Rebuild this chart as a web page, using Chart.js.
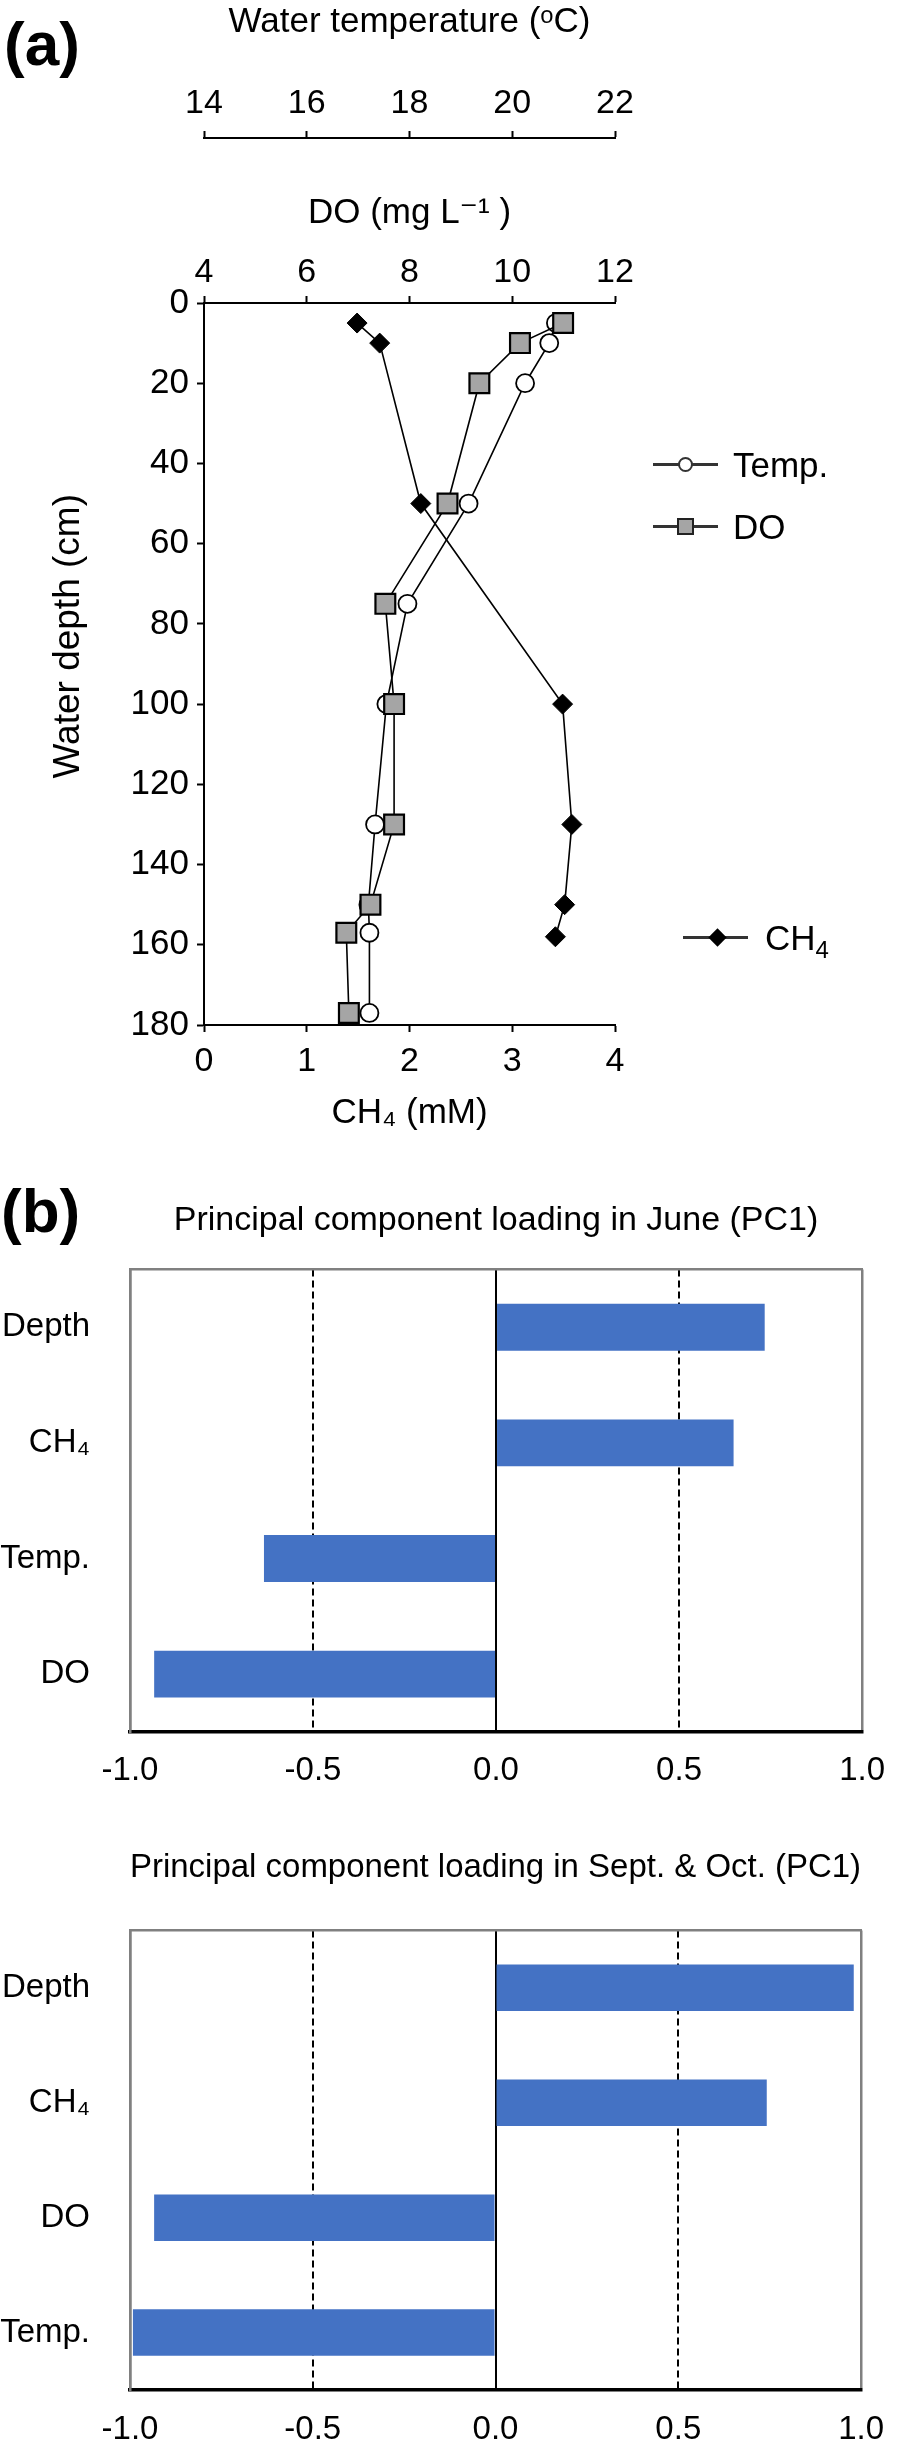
<!DOCTYPE html>
<html>
<head>
<meta charset="utf-8">
<script src="https://cdn.jsdelivr.net/npm/chart.js@4.4.1/dist/chart.umd.min.js"></script>
<style>
  body { margin:0; background:#fff; }
  #page { position:relative; width:904px; height:2448px; font-family:"Liberation Sans", Arial, sans-serif; color:#000; overflow:hidden; }
  canvas { position:absolute; left:0; }
  .tag { position:absolute; font-weight:bold; font-size:62px; line-height:1; }
  .lgText { position:absolute; font-size:35px; line-height:1; white-space:nowrap; }
  .lgText sub { font-size:24px; vertical-align:-8px; line-height:0; }
  .lgLine { position:absolute; height:3px; background:#333; }
  .mk { position:absolute; box-sizing:border-box; }
</style>
</head>
<body>
<div id="page">
  <div class="tag" style="left:4px; top:13px;">(a)</div>
  <div class="tag" style="left:1px; top:1180px;">(b)</div>

  <canvas id="profile" width="904" height="1140" style="top:0;"></canvas>
  <canvas id="june" width="904" height="640" style="top:1160px;"></canvas>
  <canvas id="autumn" width="904" height="638" style="top:1810px;"></canvas>

  <!-- legend of panel (a) -->
  <div class="lgLine" style="left:653px; top:463px; width:65px;"></div>
  <div class="mk" style="left:678px; top:457px; width:15px; height:15px; border:2.5px solid #333; border-radius:50%; background:#fff;"></div>
  <div class="lgText" style="left:733px; top:447px;">Temp.</div>

  <div class="lgLine" style="left:653px; top:525px; width:65px;"></div>
  <div class="mk" style="left:677px; top:518px; width:17px; height:17px; border:2.5px solid #222; background:#a5a5a5;"></div>
  <div class="lgText" style="left:733px; top:509px;">DO</div>

  <div class="lgLine" style="left:683px; top:936px; width:65px;"></div>
  <div class="mk" style="left:711px; top:931px; width:13px; height:13px; background:#000; transform:rotate(45deg);"></div>
  <div class="lgText" style="left:765px; top:920px;">CH<sub>4</sub></div>
</div>

<script>
// panel (a): depth profiles
const depthTemp = [5, 10, 20, 50, 75, 100, 130, 150, 157, 177];
const tempC     = [20.85, 20.72, 20.25, 19.15, 17.96, 17.55, 17.33, 17.2, 17.22, 17.22];
const depthDO   = [5, 10, 20, 50, 75, 100, 130, 150, 157, 177];
const doMg      = [10.99, 10.15, 9.36, 8.74, 7.53, 7.70, 7.70, 7.24, 6.77, 6.82];
const depthCH4  = [5, 10, 50, 100, 130, 150, 158];
const ch4mM     = [1.49, 1.71, 2.11, 3.49, 3.58, 3.51, 3.42];

// panel (b): PC1 loadings
const juneVars   = ["Depth", "CH₄", "Temp.", "DO"];
const juneLoad   = [0.734, 0.649, -0.634, -0.934];
const autumnVars = ["Depth", "CH₄", "DO", "Temp."];
const autumnLoad = [0.98, 0.742, -0.934, -0.992];

const FONT = '"Liberation Sans", Arial, "DejaVu Sans", sans-serif';
const f = (size) => ({family: FONT, size: size, weight: "normal", lineHeight: 1.2});
const pts = (xs, ys) => xs.map((v, i) => ({x: v, y: ys[i]}));

function topAxis(min, max, title, titlePad, labelPad, weight, h){
    return {
        type: "linear", position: "top", min: min, max: max, weight: weight,
        ticks: {stepSize: 2, font: f(34), color: "#000", padding: labelPad, maxRotation: 0},
        grid: {drawOnChartArea: false, tickLength: 7, tickWidth: 2, tickColor: "#000"},
        border: {color: "#000", width: 2},
        title: {display: true, text: title, font: f(35), color: "#000", padding: {top: titlePad, bottom: 0}},
        afterFit: s => { s.height = h; }
    };
}

new Chart(document.getElementById("profile"), {
    type: "scatter",
    data: {datasets: [
        {label: "DO", data: pts(doMg, depthDO), xAxisID: "xDO", yAxisID: "y", showLine: true,
         borderColor: "#000", borderWidth: 1.6, pointStyle: "rect", pointRadius: 14,
         pointBackgroundColor: "#a5a5a5", pointBorderColor: "#000", pointBorderWidth: 2.2},
        {label: "Temp.", data: pts(tempC, depthTemp), xAxisID: "xT", yAxisID: "y", showLine: true,
         borderColor: "#000", borderWidth: 1.6, pointStyle: "circle", pointRadius: 9,
         pointBackgroundColor: "#fff", pointBorderColor: "#000", pointBorderWidth: 1.8},
        {label: "CH4", data: pts(ch4mM, depthCH4), xAxisID: "x", yAxisID: "y", showLine: true,
         borderColor: "#000", borderWidth: 1.6, pointStyle: "rectRot", pointRadius: 10,
         pointBackgroundColor: "#000", pointBorderColor: "#000", pointBorderWidth: 1}
    ]},
    options: {
        responsive: false, animation: false,
        layout: {padding: {left: 0, top: 0, right: 289, bottom: 0}},
        plugins: {legend: {display: false}, tooltip: {enabled: false}},
        scales: {
            y: {
                type: "linear", position: "left", reverse: true, min: 0, max: 180,
                ticks: {stepSize: 20, font: f(35), color: "#000", padding: 8},
                grid: {drawOnChartArea: false, tickLength: 7, tickWidth: 2, tickColor: "#000"},
                border: {color: "#000", width: 2},
                // leading em/en spaces lift the centred label a little, as in the original
                title: {display: true, text: "\u2003\u2002Water depth (cm)", font: f(37), color: "#000", padding: {top: 47, bottom: 0}},
                afterFit: s => { s.width = 204; }
            },
            x: {
                type: "linear", position: "bottom", min: 0, max: 4,
                ticks: {stepSize: 1, font: f(34), color: "#000", padding: 9, maxRotation: 0},
                grid: {drawOnChartArea: false, tickLength: 7, tickWidth: 2, tickColor: "#000"},
                border: {color: "#000", width: 2},
                title: {display: true, text: "CH₄ (mM)", font: f(35), color: "#000", padding: {top: 0, bottom: 6}},
                afterFit: s => { s.height = 115; }
            },
            xDO: topAxis(4, 12, "DO (mg L⁻¹ )", 54, 3, 0, 165),
            xT: topAxis(14, 22, "Water temperature (ᵒC)", 1, 7, 1, 138)
        }
    }
});

function pcaChart(id, labels, values, title, titlePad, topH, bottomH, labelPad){
    return new Chart(document.getElementById(id), {
        type: "bar",
        data: {labels: labels, datasets: [{data: values, backgroundColor: "#4472c4",
               barPercentage: 0.405, categoryPercentage: 1}]},
        options: {
            indexAxis: "y", responsive: false, animation: false,
            layout: {padding: {left: 0, right: 26, top: 0, bottom: 0}},
            plugins: {
                legend: {display: false}, tooltip: {enabled: false},
                title: {display: true, text: title, font: f(34), color: "#000", fullSize: false,
                        padding: {top: titlePad, bottom: 0}}
            },
            scales: {
                x: {
                    min: -1, max: 1,
                    ticks: {stepSize: 0.5, callback: v => v.toFixed(1), font: f(33), color: "#000",
                            padding: labelPad, maxRotation: 0},
                    grid: {
                        drawTicks: false,
                        color: c => Math.abs(c.tick.value) === 1 ? "#808080" : "#000",
                        lineWidth: c => Math.abs(c.tick.value) === 1 ? 2.5 : 2
                    },
                    border: {color: "#000", width: 3.5,
                             dash: c => (c.tick && Math.abs(c.tick.value) === 0.5) ? [7, 4] : []},
                    afterFit: s => { s.height = bottomH; }
                },
                xTop: {
                    type: "linear", position: "top", min: -1, max: 1,
                    ticks: {display: false}, grid: {display: false},
                    border: {color: "#808080", width: 2.5},
                    afterFit: s => { s.height = topH; }
                },
                y: {
                    ticks: {font: f(33), color: "#000", padding: 32},
                    grid: {display: false},
                    border: {color: "#808080", width: 2.5},
                    afterFit: s => { s.width = 130; }
                }
            }
        }
    });
}

pcaChart("june", juneVars, juneLoad, "Principal component loading in June (PC1)", 40, 28.6, 68, 19);
pcaChart("autumn", autumnVars, autumnLoad, "Principal component loading in Sept. & Oct. (PC1)", 37, 42.6, 58, 20);
</script>
</body>
</html>
